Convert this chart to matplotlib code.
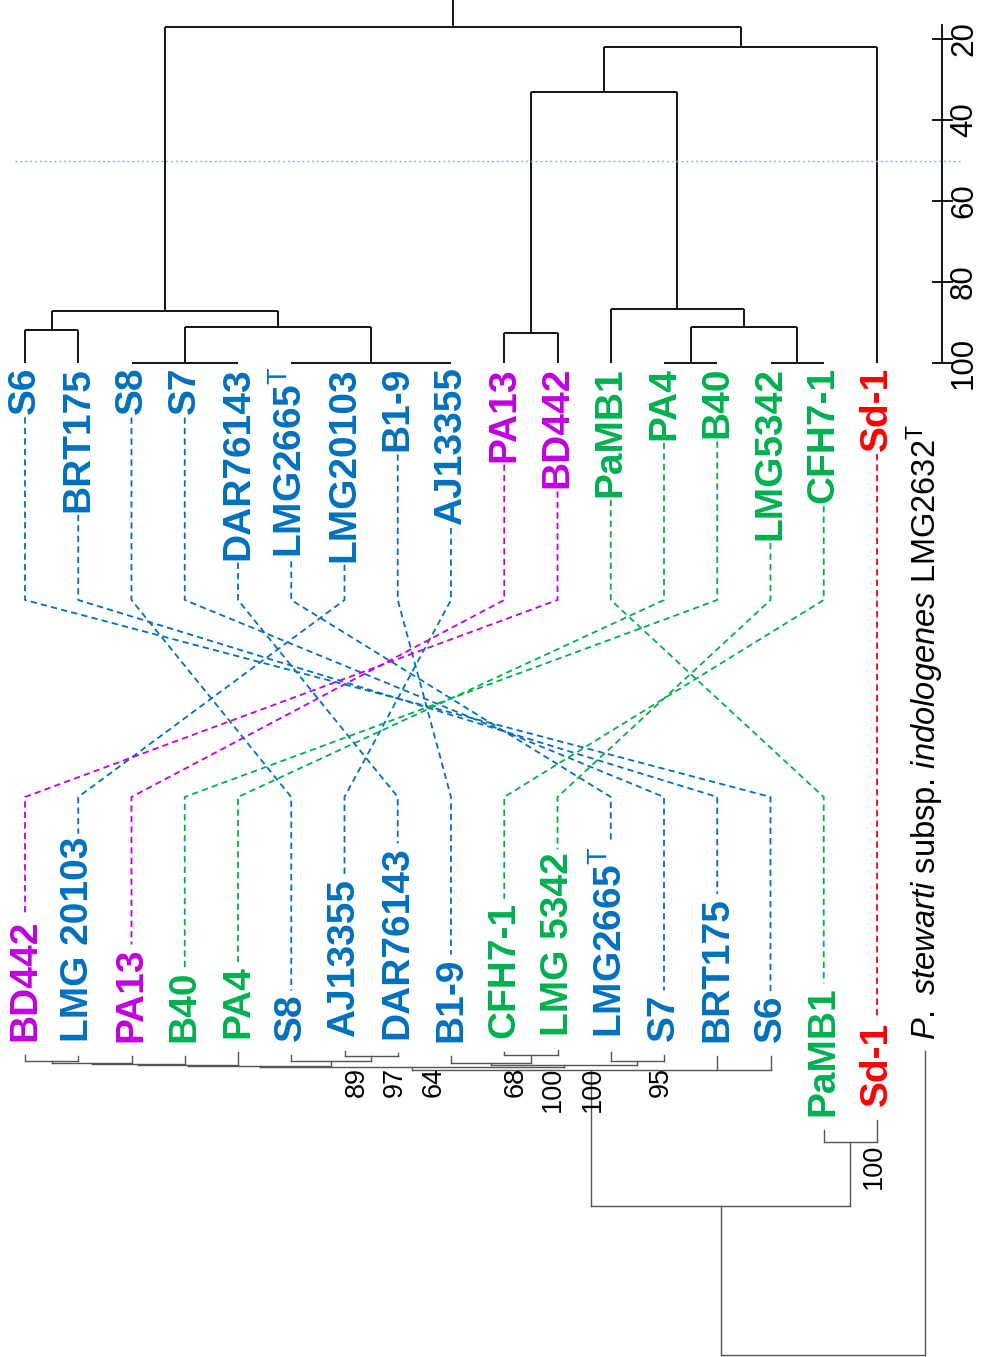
import matplotlib
matplotlib.use('Agg')
import matplotlib.pyplot as plt

plt.rcParams['font.family'] = ['Liberation Sans', 'DejaVu Sans']
plt.rcParams['mathtext.fontset'] = 'custom'
plt.rcParams['mathtext.rm'] = 'Liberation Sans'
plt.rcParams['mathtext.it'] = 'Liberation Sans:italic'
plt.rcParams['mathtext.bf'] = 'Liberation Sans:bold'

colors = {'blue': '#0070C0', 'green': '#00B050', 'purple': '#C000E0', 'red': '#FF0000'}

# strain groups
groups = {
    'S6': 'blue', 'BRT175': 'blue', 'S8': 'blue', 'S7': 'blue', 'DAR76143': 'blue',
    'LMG2665': 'blue', 'LMG20103': 'blue', 'B1-9': 'blue', 'AJ13355': 'blue',
    'PA13': 'purple', 'BD442': 'purple',
    'PaMB1': 'green', 'PA4': 'green', 'B40': 'green', 'LMG5342': 'green', 'CFH7-1': 'green',
    'Sd-1': 'red',
}

# leaf order of both trees
top_order = ['S6', 'BRT175', 'S8', 'S7', 'DAR76143', 'LMG2665', 'LMG20103', 'B1-9', 'AJ13355',
             'PA13', 'BD442', 'PaMB1', 'PA4', 'B40', 'LMG5342', 'CFH7-1', 'Sd-1']
bottom_order = ['BD442', 'LMG20103', 'PA13', 'B40', 'PA4', 'S8', 'AJ13355', 'DAR76143', 'B1-9',
                'CFH7-1', 'LMG5342', 'LMG2665', 'S7', 'BRT175', 'S6', 'PaMB1', 'Sd-1']
top_text = {'LMG2665': r'LMG2665$^{\mathrm{T}}$'}
bottom_text = {'LMG20103': 'LMG 20103', 'LMG5342': 'LMG 5342', 'LMG2665': r'LMG2665$^{\mathrm{T}}$'}
outgroup = 'outgroup'
outgroup_text = r'$\mathit{P.\ stewarti}$ subsp. $\mathit{indologenes}$ LMG2632$^{\mathrm{T}}$'

# top dendrogram: (similarity %, children)
top_tree = (17.0, [
    (87.1, [
        (91.8, ['S6', 'BRT175']),
        (91.1, [(100, ['S8', 'S7', 'DAR76143']),
                (100, ['LMG2665', 'LMG20103', 'B1-9', 'AJ13355'])]),
    ]),
    (22.0, [
        (33.0, [
            (92.6, ['PA13', 'BD442']),
            (86.7, ['PaMB1', (91.1, [(100, ['PA4', 'B40']), (100, ['LMG5342', 'CFH7-1'])])]),
        ]),
        'Sd-1',
    ]),
])
sim_ticks = [20, 40, 60, 80, 100]
cut_level = 50

# bottom tree: (depth from root, children); leaves: (name, tip depth)
bottom_tree = (0.0, [
    (1.49, [
        (2.85, [
            (2.88, [
                (2.89, [
                    (2.90, [
                        (2.91, [
                            (2.92, [
                                (2.94, [('BD442', 3.00), ('LMG20103', 2.99)]),
                                ('PA13', 2.99)]),
                            ('B40', 2.99)]),
                        ('PA4', 3.03)]),
                    (2.94, [('S8', 3.00), (2.99, [('AJ13355', 3.04), ('DAR76143', 3.02)])]),
                ]),
                (2.90, [
                    (2.92, [('B1-9', 2.99), (3.00, [('CFH7-1', 3.03), ('LMG5342', 3.05)])]),
                    (2.94, [('LMG2665', 3.03), ('S7', 3.00)]),
                ]),
            ]),
            ('BRT175', 2.99),
            ('S6', 2.99),
        ]),
        (2.13, [('PaMB1', 2.25), ('Sd-1', 2.35)]),
    ]),
    (outgroup, 3.04),
])
# bootstrap values with their slot position along the leaf row
boot_values = [89, 97, 64, 68, 100, 100, 95]
boot_slots = [6.24, 6.95, 7.67, 9.21, 9.92, 10.66, 11.94]
boot_pa_value = 100
boot_pa_slot = 15.94

W, H = 983, 1357
fig = plt.figure(figsize=(W / 100, H / 100), dpi=100)
ax = fig.add_axes([0, 0, 1, 1])
ax.set_xlim(0, W)
ax.set_ylim(H, 0)
ax.axis('off')


def slot_x(i):
    return 25 + 53.25 * i


def sim_y(s):
    return 39 + (s - 20) * 4.05


def depth_y(d):
    return 1355 - d * 100


def draw_top(node):
    if isinstance(node, str):
        return slot_x(top_order.index(node)), 100
    s, kids = node
    pts = [draw_top(k) for k in kids]
    for x, ks in pts:
        ax.plot([x, x], [sim_y(s), sim_y(ks)], color='black', lw=1.3, solid_capstyle='butt')
    ax.plot([pts[0][0], pts[-1][0]], [sim_y(s)] * 2, color='black', lw=1.3, solid_capstyle='butt')
    return (pts[0][0] + pts[-1][0]) / 2, s


bottom_tips = {}


def leaf_slot(name):
    if name == outgroup:
        return 16.9
    return bottom_order.index(name)


def draw_bottom(node):
    a, b = node
    if isinstance(a, str):
        bottom_tips[a] = b
        return slot_x(leaf_slot(a)), b
    d, kids = a, b
    pts = [draw_bottom(k) for k in kids]
    for x, kd in pts:
        ax.plot([x, x], [depth_y(d), depth_y(kd)], color='#555555', lw=1.0)
    ax.plot([pts[0][0], pts[-1][0]], [depth_y(d)] * 2, color='#555555', lw=1.0)
    return (pts[0][0] + pts[-1][0]) / 2, d


# top dendrogram with scale
rx, rs = draw_top(top_tree)
ax.plot([rx, rx], [sim_y(rs), 0], color='black', lw=1.3)
ax.plot([942, 942], [sim_y(16.5), sim_y(100)], color='black', lw=1.3)
for t in sim_ticks:
    ax.plot([933, 952], [sim_y(t)] * 2, color='black', lw=1.3)
    ax.text(964, sim_y(t), str(t), rotation=90, ha='center', va='center', fontsize=22.5)
ax.plot([15, 962], [sim_y(cut_level)] * 2, color='#8DB3E2', lw=1.0, linestyle=(0, (1.5, 2)))

# bottom tree
draw_bottom(bottom_tree)
for v, s in zip(boot_values, boot_slots):
    ax.text(slot_x(s), 1067, str(v), rotation=90, ha='center', va='top', fontsize=19.5)
ax.text(slot_x(boot_pa_slot), 1144, str(boot_pa_value), rotation=90, ha='center', va='top', fontsize=19.5)

# labels
top_labels = {}
for i, name in enumerate(top_order):
    top_labels[name] = ax.text(slot_x(i), 367, top_text.get(name, name), rotation=90, ha='center',
                               va='top', fontsize=28, fontweight='bold', color=colors[groups[name]])
bottom_labels = {}
for i, name in enumerate(bottom_order):
    bottom_labels[name] = ax.text(slot_x(i), depth_y(bottom_tips[name]) - 14, bottom_text.get(name, name),
                                  rotation=90, ha='center', va='bottom', fontsize=28,
                                  fontweight='bold', color=colors[groups[name]])
ax.text(slot_x(16.9), depth_y(bottom_tips[outgroup]) - 11, outgroup_text, rotation=90,
        ha='center', va='bottom', fontsize=23.5, color='black')

fig.canvas.draw()
renderer = fig.canvas.get_renderer()
inv = ax.transData.inverted()


def y_extent(t):
    bb = t.get_window_extent(renderer)
    (_, y0), (_, y1) = inv.transform([[bb.x0, bb.y0], [bb.x1, bb.y1]])
    return min(y0, y1), max(y0, y1)


# connecting dashed lines
for name in top_order:
    xt = slot_x(top_order.index(name))
    xb = slot_x(bottom_order.index(name))
    y_start = y_extent(top_labels[name])[1] + 3
    y_end = y_extent(bottom_labels[name])[0] - 3
    ax.plot([xt, xt, xb, xb], [y_start, 600, 797, y_end], color=colors[groups[name]],
            lw=1.3, linestyle=(0, (3.5, 2.3)))

fig.savefig('out.png', dpi=100)
